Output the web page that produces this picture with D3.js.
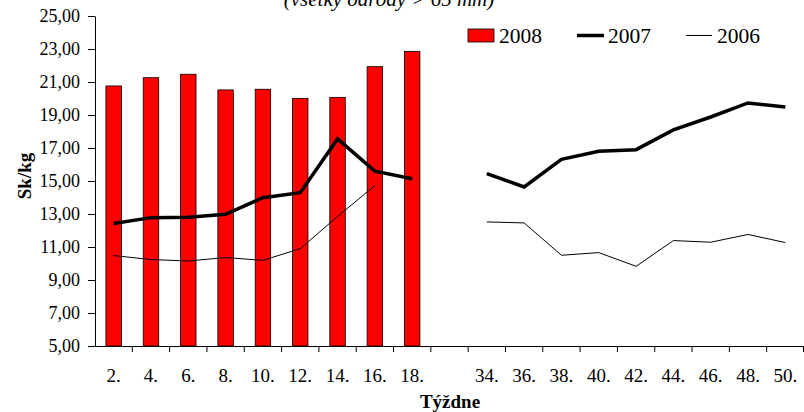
<!DOCTYPE html>
<html>
<head>
<meta charset="utf-8">
<script src="https://cdn.jsdelivr.net/npm/d3@7"></script>
<style>
  body { margin: 0; background: #fff; }
  svg, svg text { font-family: "Liberation Serif", "Times New Roman", Times, "DejaVu Serif", serif !important; }
  text { fill: #000; }
  .axis path, .axis line { stroke: #000; stroke-width: 1; }
</style>
</head>
<body>
<script>
/* global d3 */
var weeks = ['2.', '4.', '6.', '8.', '10.', '12.', '14.', '16.', '18.', ' ',
  '34.', '36.', '38.', '40.', '42.', '44.', '46.', '48.', '50.']

var v2008 = [20.76, 21.26, 21.47, 20.52, 20.56, 20.01, 20.07, 21.93, 22.86, null,
  null, null, null, null, null, null, null, null, null]

var v2007 = [12.42, 12.78, 12.80, 12.98, 13.99, 14.29, 17.55, 15.60, 15.14, null,
  15.45, 14.64, 16.31, 16.80, 16.90, 18.10, 18.88, 19.73, 19.48]

var v2006 = [10.48, 10.24, 10.15, 10.36, 10.19, 10.90, 12.85, 14.72, null, null,
  12.52, 12.46, 10.50, 10.66, 9.83, 11.39, 11.29, 11.76, 11.27]

var yTicks = [5, 7, 9, 11, 13, 15, 17, 19, 21, 23, 25]

var serif = '"Liberation Serif", "Times New Roman", Times, "DejaVu Serif", serif'

var margin = {top: 16, right: 0, bottom: 66, left: 95}
var width = 804 - margin.left - margin.right
var height = 412 - margin.top - margin.bottom

var locale = d3.formatLocale({decimal: ',', thousands: ' ', grouping: [3], currency: ['', '']})
var fmt = locale.format('.2f')

var x = d3.scaleBand()
  .domain(weeks)
  .range([0, width])
  .paddingInner(0.585)
  .paddingOuter(0.2925)

var y = d3.scaleLinear()
  .domain([5, 25])
  .range([height, 0])

var svg = d3.select('body').append('svg')
  .attr('width', 804)
  .attr('height', 412)
  .style('font-family', serif)

var g = svg.append('g')
  .attr('transform', 'translate(' + margin.left + ',' + margin.top + ')')

// bars 2008
g.selectAll('.bar')
  .data(weeks.map(function (w, i) { return {w: w, v: v2008[i]} }).filter(function (d) { return d.v != null }))
  .enter().append('rect')
  .attr('class', 'bar')
  .attr('x', function (d) { return x(d.w) })
  .attr('y', function (d) { return y(d.v) })
  .attr('width', x.bandwidth())
  .attr('height', function (d) { return height - y(d.v) })
  .style('fill', '#ff0000')
  .style('stroke', '#000')
  .style('stroke-width', 0.8)

var line = d3.line()
  .defined(function (d) { return d.v != null })
  .x(function (d) { return x(d.w) + x.bandwidth() / 2 })
  .y(function (d) { return y(d.v) })

function series (vals) {
  return weeks.map(function (w, i) { return {w: w, v: vals[i]} })
}

g.append('path')
  .datum(series(v2006))
  .attr('d', line)
  .style('fill', 'none')
  .style('stroke', '#000')
  .style('stroke-width', 1)

g.append('path')
  .datum(series(v2007))
  .attr('d', line)
  .style('fill', 'none')
  .style('stroke', '#000')
  .style('stroke-width', 3.5)

// y axis
var yAxis = d3.axisLeft(y)
  .tickValues(yTicks)
  .tickFormat(fmt)
  .tickSize(7)
  .tickSizeOuter(0)
  .tickPadding(8)

g.append('g')
  .attr('class', 'axis')
  .call(yAxis)
  .attr('font-family', serif)
  .attr('font-size', 18)

// x axis: labels at band centres, ticks at band edges
var xAxis = d3.axisBottom(x)
  .tickSize(0)
  .tickSizeOuter(0)
  .tickPadding(23)
  .tickFormat(function (d) { return d.trim() })

var xg = g.append('g')
  .attr('class', 'axis')
  .attr('transform', 'translate(0,' + height + ')')
  .call(xAxis)
  .attr('font-family', serif)
  .attr('font-size', 19)

xg.selectAll('.edge')
  .data(weeks.slice(1).concat(['end']))
  .enter().append('line')
  .attr('class', 'edge')
  .attr('x1', function (d) { return d === 'end' ? width - 0.5 : x(d) - x.step() * x.paddingInner() / 2 })
  .attr('x2', function (d) { return d === 'end' ? width - 0.5 : x(d) - x.step() * x.paddingInner() / 2 })
  .attr('y1', 0)
  .attr('y2', 6)
  .style('stroke', '#000')

// axis titles
svg.append('text')
  .attr('transform', 'translate(31,176) rotate(-90)')
  .attr('text-anchor', 'middle')
  .style('font-size', '19px')
  .style('font-weight', 'bold')
  .text('Sk/kg')

svg.append('text')
  .attr('x', 450)
  .attr('y', 408)
  .attr('text-anchor', 'middle')
  .style('font-size', '19px')
  .style('font-weight', 'bold')
  .text('Týždne')

svg.append('text')
  .attr('x', 389)
  .attr('y', 6)
  .attr('text-anchor', 'middle')
  .style('font-size', '21px')
  .style('font-style', 'italic')
  .text('(všetky odrody > 65 mm)')

// legend
var legend = svg.append('g')

legend.append('rect')
  .attr('x', 468)
  .attr('y', 29)
  .attr('width', 26)
  .attr('height', 13)
  .style('fill', '#ff0000')
  .style('stroke', '#000')
  .style('stroke-width', 0.8)

legend.append('line')
  .attr('x1', 577).attr('x2', 604)
  .attr('y1', 35.5).attr('y2', 35.5)
  .style('stroke', '#000')
  .style('stroke-width', 3.5)

legend.append('line')
  .attr('x1', 686).attr('x2', 712)
  .attr('y1', 35.5).attr('y2', 35.5)
  .style('stroke', '#000')
  .style('stroke-width', 1)

var legendText = [['2008', 499], ['2007', 608], ['2006', 717]]
legend.selectAll('.lt')
  .data(legendText)
  .enter().append('text')
  .attr('class', 'lt')
  .attr('x', function (d) { return d[1] })
  .attr('y', 43)
  .style('font-size', '21.5px')
  .text(function (d) { return d[0] })
</script>
</body>
</html>
